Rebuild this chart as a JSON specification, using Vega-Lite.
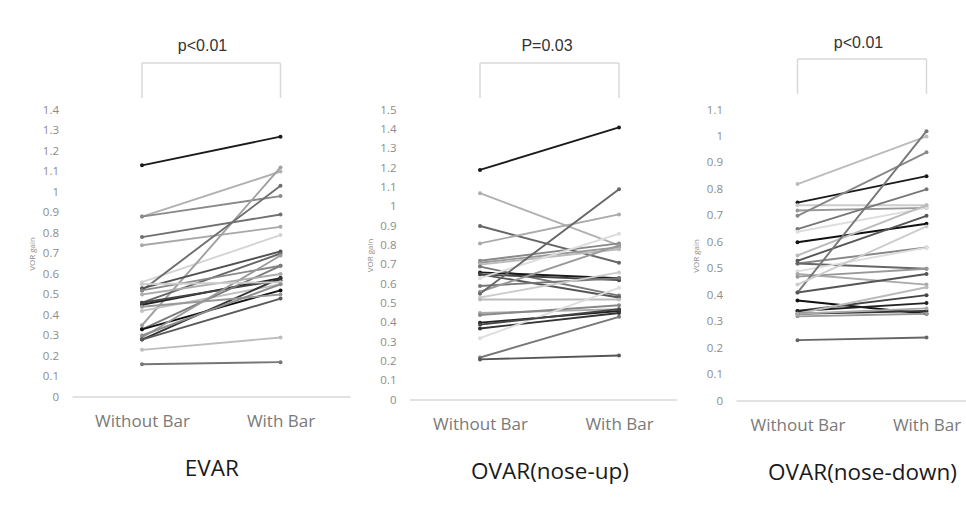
{
"$schema": "https://vega.github.io/schema/vega-lite/v6.json",
"background": "white",
"padding": {"left": 28.5, "top": 34, "right": 0, "bottom": 12},
"spacing": 14.5,
"config": {
 "view": {"stroke": null},
 "axisX": {"domain": false, "ticks": false, "grid": false, "labelFont": "Open Sans", "labelFontSize": 17, "labelColor": "#7a7a7a", "labelPadding": 16, "labelAngle": 0, "titleFont": "Open Sans", "titleFontSize": 22.5, "titleFontWeight": "normal", "titleColor": "#1a1a1a", "titlePadding": 28},
 "axisY": {"domain": false, "ticks": false, "grid": false, "tickCount": 15, "labelOverlap": false, "labelFont": "Open Sans", "labelFontSize": 11.5, "labelColor": "#8c8c8c", "labelPadding": 14, "minExtent": 31, "maxExtent": 31, "titleFont": "Open Sans", "titleFontSize": 8, "titleFontWeight": "normal", "titleColor": "#8c8c8c", "titlePadding": 5, "format": "~g"}
},
"resolve": {"scale": {"color": "independent", "x": "independent", "y": "independent"}},
"datasets": {
 "evar": [
  {"s":"E1","c":"Without Bar","v":1.13},{"s":"E1","c":"With Bar","v":1.27},
  {"s":"E2","c":"Without Bar","v":0.88},{"s":"E2","c":"With Bar","v":1.10},
  {"s":"E3","c":"Without Bar","v":0.88},{"s":"E3","c":"With Bar","v":0.98},
  {"s":"E4","c":"Without Bar","v":0.78},{"s":"E4","c":"With Bar","v":0.89},
  {"s":"E5","c":"Without Bar","v":0.74},{"s":"E5","c":"With Bar","v":0.83},
  {"s":"E6","c":"Without Bar","v":0.56},{"s":"E6","c":"With Bar","v":0.79},
  {"s":"E7","c":"Without Bar","v":0.35},{"s":"E7","c":"With Bar","v":1.12},
  {"s":"E8","c":"Without Bar","v":0.52},{"s":"E8","c":"With Bar","v":1.03},
  {"s":"E9","c":"Without Bar","v":0.53},{"s":"E9","c":"With Bar","v":0.71},
  {"s":"E10","c":"Without Bar","v":0.46},{"s":"E10","c":"With Bar","v":0.70},
  {"s":"E11","c":"Without Bar","v":0.45},{"s":"E11","c":"With Bar","v":0.58},
  {"s":"E12","c":"Without Bar","v":0.52},{"s":"E12","c":"With Bar","v":0.64},
  {"s":"E13","c":"Without Bar","v":0.42},{"s":"E13","c":"With Bar","v":0.55},
  {"s":"E14","c":"Without Bar","v":0.46},{"s":"E14","c":"With Bar","v":0.57},
  {"s":"E15","c":"Without Bar","v":0.33},{"s":"E15","c":"With Bar","v":0.64},
  {"s":"E16","c":"Without Bar","v":0.33},{"s":"E16","c":"With Bar","v":0.52},
  {"s":"E17","c":"Without Bar","v":0.29},{"s":"E17","c":"With Bar","v":0.69},
  {"s":"E18","c":"Without Bar","v":0.28},{"s":"E18","c":"With Bar","v":0.58},
  {"s":"E19","c":"Without Bar","v":0.28},{"s":"E19","c":"With Bar","v":0.48},
  {"s":"E20","c":"Without Bar","v":0.23},{"s":"E20","c":"With Bar","v":0.29},
  {"s":"E21","c":"Without Bar","v":0.16},{"s":"E21","c":"With Bar","v":0.17},
  {"s":"E22","c":"Without Bar","v":0.50},{"s":"E22","c":"With Bar","v":0.60},
  {"s":"E23","c":"Without Bar","v":0.44},{"s":"E23","c":"With Bar","v":0.50},
  {"s":"E24","c":"Without Bar","v":0.55},{"s":"E24","c":"With Bar","v":0.56},
  {"s":"E25","c":"Without Bar","v":0.30},{"s":"E25","c":"With Bar","v":0.55}
 ],
 "up": [
  {"s":"U1","c":"Without Bar","v":1.19},{"s":"U1","c":"With Bar","v":1.41},
  {"s":"U2","c":"Without Bar","v":1.07},{"s":"U2","c":"With Bar","v":0.80},
  {"s":"U3","c":"Without Bar","v":0.90},{"s":"U3","c":"With Bar","v":0.71},
  {"s":"U4","c":"Without Bar","v":0.81},{"s":"U4","c":"With Bar","v":0.96},
  {"s":"U5","c":"Without Bar","v":0.72},{"s":"U5","c":"With Bar","v":0.81},
  {"s":"U6","c":"Without Bar","v":0.71},{"s":"U6","c":"With Bar","v":0.79},
  {"s":"U7","c":"Without Bar","v":0.70},{"s":"U7","c":"With Bar","v":0.78},
  {"s":"U8","c":"Without Bar","v":0.69},{"s":"U8","c":"With Bar","v":0.54},
  {"s":"U9","c":"Without Bar","v":0.66},{"s":"U9","c":"With Bar","v":0.63},
  {"s":"U10","c":"Without Bar","v":0.65},{"s":"U10","c":"With Bar","v":0.53},
  {"s":"U11","c":"Without Bar","v":0.65},{"s":"U11","c":"With Bar","v":0.62},
  {"s":"U12","c":"Without Bar","v":0.63},{"s":"U12","c":"With Bar","v":0.86},
  {"s":"U13","c":"Without Bar","v":0.59},{"s":"U13","c":"With Bar","v":0.63},
  {"s":"U14","c":"Without Bar","v":0.56},{"s":"U14","c":"With Bar","v":0.80},
  {"s":"U15","c":"Without Bar","v":0.55},{"s":"U15","c":"With Bar","v":1.09},
  {"s":"U16","c":"Without Bar","v":0.53},{"s":"U16","c":"With Bar","v":0.66},
  {"s":"U17","c":"Without Bar","v":0.52},{"s":"U17","c":"With Bar","v":0.52},
  {"s":"U18","c":"Without Bar","v":0.45},{"s":"U18","c":"With Bar","v":0.47},
  {"s":"U19","c":"Without Bar","v":0.44},{"s":"U19","c":"With Bar","v":0.49},
  {"s":"U20","c":"Without Bar","v":0.40},{"s":"U20","c":"With Bar","v":0.46},
  {"s":"U21","c":"Without Bar","v":0.37},{"s":"U21","c":"With Bar","v":0.45},
  {"s":"U22","c":"Without Bar","v":0.32},{"s":"U22","c":"With Bar","v":0.58},
  {"s":"U23","c":"Without Bar","v":0.22},{"s":"U23","c":"With Bar","v":0.43},
  {"s":"U24","c":"Without Bar","v":0.21},{"s":"U24","c":"With Bar","v":0.23},
  {"s":"U25","c":"Without Bar","v":0.39},{"s":"U25","c":"With Bar","v":0.47}
 ],
 "down": [
  {"s":"D1","c":"Without Bar","v":0.82},{"s":"D1","c":"With Bar","v":1.00},
  {"s":"D2","c":"Without Bar","v":0.75},{"s":"D2","c":"With Bar","v":0.85},
  {"s":"D3","c":"Without Bar","v":0.74},{"s":"D3","c":"With Bar","v":0.74},
  {"s":"D4","c":"Without Bar","v":0.72},{"s":"D4","c":"With Bar","v":0.73},
  {"s":"D5","c":"Without Bar","v":0.70},{"s":"D5","c":"With Bar","v":0.94},
  {"s":"D6","c":"Without Bar","v":0.65},{"s":"D6","c":"With Bar","v":0.80},
  {"s":"D7","c":"Without Bar","v":0.64},{"s":"D7","c":"With Bar","v":0.73},
  {"s":"D8","c":"Without Bar","v":0.60},{"s":"D8","c":"With Bar","v":0.67},
  {"s":"D9","c":"Without Bar","v":0.55},{"s":"D9","c":"With Bar","v":0.74},
  {"s":"D10","c":"Without Bar","v":0.53},{"s":"D10","c":"With Bar","v":0.70},
  {"s":"D11","c":"Without Bar","v":0.52},{"s":"D11","c":"With Bar","v":0.58},
  {"s":"D12","c":"Without Bar","v":0.52},{"s":"D12","c":"With Bar","v":0.50},
  {"s":"D13","c":"Without Bar","v":0.49},{"s":"D13","c":"With Bar","v":0.58},
  {"s":"D14","c":"Without Bar","v":0.48},{"s":"D14","c":"With Bar","v":0.44},
  {"s":"D15","c":"Without Bar","v":0.47},{"s":"D15","c":"With Bar","v":0.50},
  {"s":"D16","c":"Without Bar","v":0.41},{"s":"D16","c":"With Bar","v":1.02},
  {"s":"D17","c":"Without Bar","v":0.41},{"s":"D17","c":"With Bar","v":0.48},
  {"s":"D18","c":"Without Bar","v":0.38},{"s":"D18","c":"With Bar","v":0.33},
  {"s":"D19","c":"Without Bar","v":0.34},{"s":"D19","c":"With Bar","v":0.40},
  {"s":"D20","c":"Without Bar","v":0.34},{"s":"D20","c":"With Bar","v":0.37},
  {"s":"D21","c":"Without Bar","v":0.33},{"s":"D21","c":"With Bar","v":0.43},
  {"s":"D22","c":"Without Bar","v":0.33},{"s":"D22","c":"With Bar","v":0.34},
  {"s":"D23","c":"Without Bar","v":0.32},{"s":"D23","c":"With Bar","v":0.33},
  {"s":"D24","c":"Without Bar","v":0.23},{"s":"D24","c":"With Bar","v":0.24},
  {"s":"D25","c":"Without Bar","v":0.44},{"s":"D25","c":"With Bar","v":0.66},
  {"s":"D26","c":"Without Bar","v":0.33},{"s":"D26","c":"With Bar","v":0.35}
 ]
},
"hconcat": [
 {
  "width": 278, "height": 287,
  "layer": [
   {"data": {"name": "evar"}, "mark": {"type": "line", "strokeWidth": 1.9, "point": {"filled": true, "size": 16}},
    "encoding": {
     "x": {"field": "c", "type": "nominal", "sort": ["Without Bar", "With Bar"], "scale": {"type": "point", "domain": ["Without Bar", "With Bar"], "range": [69.5, 208], "padding": 0}, "axis": {"title": "EVAR"}},
     "y": {"field": "v", "type": "quantitative", "scale": {"domain": [0, 1.4], "nice": false}, "axis": {"title": "VOR gain"}},
     "color": {"field": "s", "type": "nominal", "legend": null, "scale": {"domain": ["E1","E2","E3","E4","E5","E6","E7","E8","E9","E10","E11","E12","E13","E14","E15","E16","E17","E18","E19","E20","E21","E22","E23","E24","E25"], "range": ["#1a1a1a","#b0b0b0","#8a8a8a","#707070","#a8a8a8","#d4d4d4","#a0a0a0","#6e6e6e","#505050","#666666","#222222","#888888","#c0c0c0","#444444","#7a7a7a","#111111","#9a9a9a","#333333","#5a5a5a","#bdbdbd","#777777","#acacac","#999999","#cccccc","#8c8c8c"]}}
    }},
   {"data": {"values": [{}]}, "mark": {"type": "rule", "color": "#d9d9d9", "strokeWidth": 1.5}, "encoding": {"y": {"datum": 0, "type": "quantitative"}}},
   {"data": {"values": [{}]}, "mark": {"type": "rule", "color": "#d9d9d9", "strokeWidth": 1.5}, "encoding": {"x": {"datum": "Without Bar", "type": "nominal"}, "x2": {"datum": "With Bar"}, "y": {"datum": 1.629, "type": "quantitative"}}},
   {"data": {"values": [{"c": "Without Bar"}, {"c": "With Bar"}]}, "mark": {"type": "rule", "color": "#d9d9d9", "strokeWidth": 1.5}, "encoding": {"x": {"field": "c", "type": "nominal"}, "y": {"datum": 1.629, "type": "quantitative"}, "y2": {"datum": 1.459}}},
   {"data": {"values": [{}]}, "mark": {"type": "text", "text": "p<0.01", "font": "Liberation Sans", "fontSize": 16, "color": "#333333", "dx": -9, "baseline": "middle"}, "encoding": {"y": {"datum": 1.712, "type": "quantitative"}}}
  ]
 },
 {
  "width": 267, "height": 290,
  "layer": [
   {"data": {"name": "up"}, "mark": {"type": "line", "strokeWidth": 1.9, "point": {"filled": true, "size": 16}},
    "encoding": {
     "x": {"field": "c", "type": "nominal", "sort": ["Without Bar", "With Bar"], "scale": {"type": "point", "domain": ["Without Bar", "With Bar"], "range": [70, 209], "padding": 0}, "axis": {"title": "OVAR(nose-up)"}},
     "y": {"field": "v", "type": "quantitative", "scale": {"domain": [0, 1.5], "nice": false}, "axis": {"title": "VOR gain"}},
     "color": {"field": "s", "type": "nominal", "legend": null, "scale": {"domain": ["U1","U2","U3","U4","U5","U6","U7","U8","U9","U10","U11","U12","U13","U14","U15","U16","U17","U18","U19","U20","U21","U22","U23","U24","U25"], "range": ["#1a1a1a","#b0b0b0","#666666","#aaaaaa","#888888","#9a9a9a","#bbbbbb","#777777","#1a1a1a","#555555","#444444","#dddddd","#777777","#999999","#666666","#cccccc","#bbbbbb","#aaaaaa","#888888","#222222","#333333","#dddddd","#777777","#555555","#444444"]}}
    }},
   {"data": {"values": [{}]}, "mark": {"type": "rule", "color": "#d9d9d9", "strokeWidth": 1.5}, "encoding": {"y": {"datum": 0, "type": "quantitative"}}},
   {"data": {"values": [{}]}, "mark": {"type": "rule", "color": "#d9d9d9", "strokeWidth": 1.5}, "encoding": {"x": {"datum": "Without Bar", "type": "nominal"}, "x2": {"datum": "With Bar"}, "y": {"datum": 1.743, "type": "quantitative"}}},
   {"data": {"values": [{"c": "Without Bar"}, {"c": "With Bar"}]}, "mark": {"type": "rule", "color": "#d9d9d9", "strokeWidth": 1.5}, "encoding": {"x": {"field": "c", "type": "nominal"}, "y": {"datum": 1.743, "type": "quantitative"}, "y2": {"datum": 1.562}}},
   {"data": {"values": [{}]}, "mark": {"type": "text", "text": "P=0.03", "font": "Liberation Sans", "fontSize": 16, "color": "#333333", "dx": 3.5, "baseline": "middle"}, "encoding": {"y": {"datum": 1.831, "type": "quantitative"}}}
  ]
 },
 {
  "width": 233, "height": 291,
  "layer": [
   {"data": {"name": "down"}, "mark": {"type": "line", "strokeWidth": 1.9, "point": {"filled": true, "size": 16}},
    "encoding": {
     "x": {"field": "c", "type": "nominal", "sort": ["Without Bar", "With Bar"], "scale": {"type": "point", "domain": ["Without Bar", "With Bar"], "range": [61, 190], "padding": 0}, "axis": {"title": "OVAR(nose-down)"}},
     "y": {"field": "v", "type": "quantitative", "scale": {"domain": [0, 1.1], "nice": false}, "axis": {"title": "VOR gain"}},
     "color": {"field": "s", "type": "nominal", "legend": null, "scale": {"domain": ["D1","D2","D3","D4","D5","D6","D7","D8","D9","D10","D11","D12","D13","D14","D15","D16","D17","D18","D19","D20","D21","D22","D23","D24","D25","D26"], "range": ["#bbbbbb","#1a1a1a","#cccccc","#999999","#888888","#777777","#dddddd","#111111","#bbbbbb","#555555","#888888","#666666","#dddddd","#aaaaaa","#999999","#777777","#555555","#111111","#444444","#222222","#bbbbbb","#333333","#999999","#666666","#cccccc","#aaaaaa"]}}
    }},
   {"data": {"values": [{}]}, "mark": {"type": "rule", "color": "#d9d9d9", "strokeWidth": 1.5}, "encoding": {"y": {"datum": 0, "type": "quantitative"}}},
   {"data": {"values": [{}]}, "mark": {"type": "rule", "color": "#d9d9d9", "strokeWidth": 1.5}, "encoding": {"x": {"datum": "Without Bar", "type": "nominal"}, "x2": {"datum": "With Bar"}, "y": {"datum": 1.293, "type": "quantitative"}}},
   {"data": {"values": [{"c": "Without Bar"}, {"c": "With Bar"}]}, "mark": {"type": "rule", "color": "#d9d9d9", "strokeWidth": 1.5}, "encoding": {"x": {"field": "c", "type": "nominal"}, "y": {"datum": 1.293, "type": "quantitative"}, "y2": {"datum": 1.161}}},
   {"data": {"values": [{}]}, "mark": {"type": "text", "text": "p<0.01", "font": "Liberation Sans", "fontSize": 16, "color": "#333333", "dx": 5.5, "baseline": "middle"}, "encoding": {"y": {"datum": 1.354, "type": "quantitative"}}}
  ]
 }
]
}
